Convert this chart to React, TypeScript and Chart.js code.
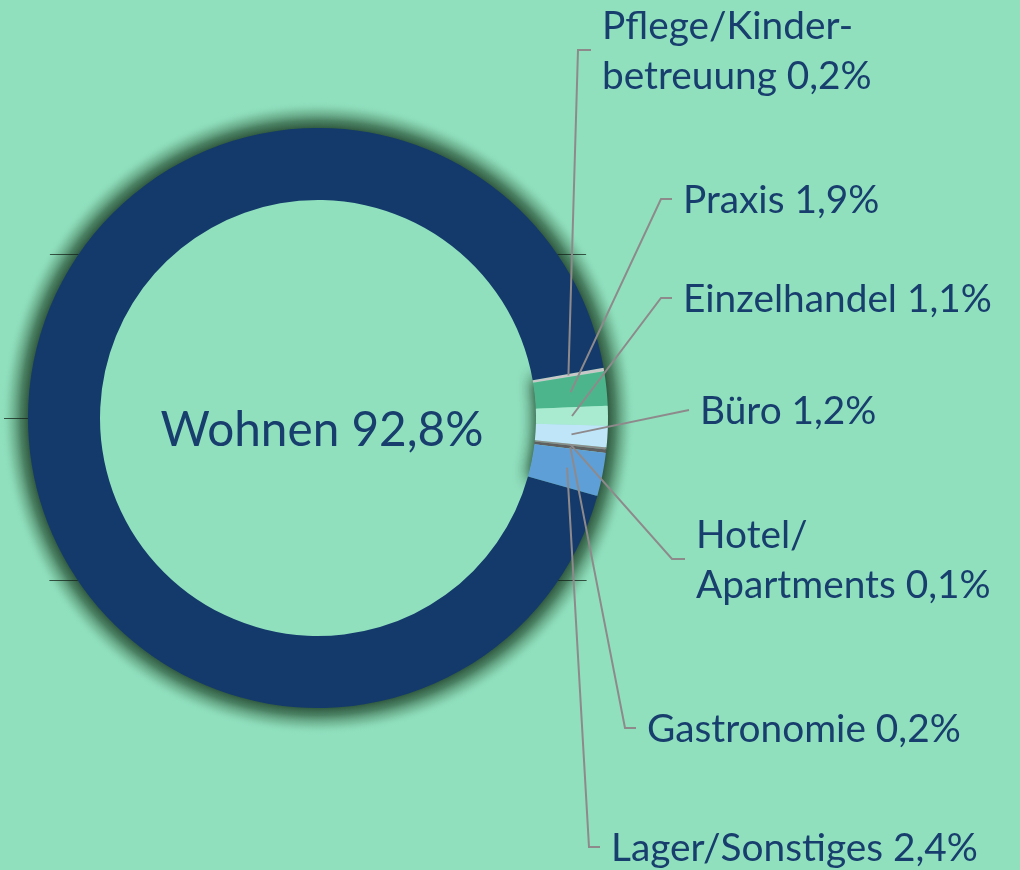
import React, { useEffect, useRef } from 'react';
import { Chart, ArcElement, DoughnutController } from 'chart.js';

Chart.register(ArcElement, DoughnutController);

// ---- data ----
const categories = [
  'Pflege/Kinder-\nbetreuung',
  'Praxis',
  'Einzelhandel',
  'Büro',
  'Hotel/\nApartments',
  'Gastronomie',
  'Lager/Sonstiges',
  'Wohnen',
];
const shares = [0.2, 1.9, 1.1, 1.2, 0.1, 0.2, 2.4, 92.8];

// ---- styles ----
const sliceColors = ['#C8C8C8', '#4DB58B', '#A9EBD0', '#BEE6F8', '#8C8C8C', '#606060', '#5F9FD7', '#143A6B'];
const BG = '#90E0BE';
const TEXT = '#183E6E';
const LEADER = '#8E8A8C';

// label layout: elbow offset from ring centre (px) and horizontal tail length
const labelElbowDX = [260, 343, 343, 371, 354, 307, 271];
const labelElbowDY = [-368, -219, -120, -8, 141, 310, 429];
const labelTail = [13, 11, 11, 0, 13, 11, 11];

const fmt = (v: number) => v.toFixed(1).replace('.', ',') + '%';

const decorPlugin = {
  id: 'decor',
  beforeDatasetsDraw(chart: any) {
    const meta = chart.getDatasetMeta(0);
    if (!meta.data.length) return;
    const a0 = meta.data[0].getProps(['x', 'y', 'outerRadius', 'innerRadius', 'startAngle'], true);
    const aL = meta.data[6].getProps(['endAngle'], true);
    const { x: cx, y: cy, outerRadius: R, innerRadius: r } = a0;
    const ctx = chart.ctx;
    const HW = 27;
    // outer halo
    ctx.save();
    const g = ctx.createRadialGradient(cx, cy, R - 1, cx, cy, R + HW);
    g.addColorStop(0, 'rgba(40,78,54,0.95)');
    g.addColorStop(0.3, 'rgba(52,98,70,0.75)');
    g.addColorStop(0.65, 'rgba(82,140,106,0.35)');
    g.addColorStop(1, 'rgba(144,224,190,0)');
    ctx.fillStyle = g;
    ctx.beginPath();
    ctx.arc(cx, cy, R + HW, 0, Math.PI * 2);
    ctx.arc(cx, cy, R - 1, 0, Math.PI * 2, true);
    ctx.fill('evenodd');
    ctx.restore();
    // inner halo near small slices (soft shadow, shape itself drawn off-canvas)
    const off = 3000;
    for (let k = 0; k < 2; k++) {
      ctx.save();
      ctx.beginPath();
      ctx.arc(cx, cy, r + 0.5, 0, Math.PI * 2);
      ctx.clip();
      ctx.shadowColor = 'rgba(34,72,48,0.85)';
      ctx.shadowBlur = 16;
      ctx.shadowOffsetX = off;
      ctx.fillStyle = '#000';
      ctx.beginPath();
      ctx.arc(cx - off, cy, R, a0.startAngle, aL.endAngle);
      ctx.arc(cx - off, cy, r + 1, aL.endAngle, a0.startAngle, true);
      ctx.closePath();
      ctx.fill();
      ctx.restore();
    }
    // faint hidden-axis ticks visible inside halo
    ctx.save();
    ctx.beginPath();
    ctx.arc(cx, cy, R + 24, 0, Math.PI * 2);
    ctx.arc(cx, cy, R, 0, Math.PI * 2, true);
    ctx.clip('evenodd');
    ctx.strokeStyle = 'rgba(20,35,25,0.75)';
    ctx.lineWidth = 1;
    const rows: [number, number, number][] = [
      [-164, 0, chart.width],
      [0, 0, cx],
      [162, 0, chart.width],
    ];
    rows.forEach(([dy, x1, x2]) => {
      ctx.beginPath();
      ctx.moveTo(x1, Math.round(cy + dy) + 0.5);
      ctx.lineTo(x2, Math.round(cy + dy) + 0.5);
      ctx.stroke();
    });
    ctx.restore();
  },
  afterDatasetsDraw(chart: any) {
    const meta = chart.getDatasetMeta(0);
    if (!meta.data.length) return;
    const ctx = chart.ctx;
    const first = meta.data[0].getProps(['x', 'y', 'outerRadius', 'innerRadius'], true);
    const { x: cx, y: cy, outerRadius: R, innerRadius: r } = first;
    const midR = (R + r) / 2;

    ctx.save();
    ctx.font = '100px Lato';
    const wRef = ctx.measureText('Einzelhandel 1,1%').width;
    const labelSize = (100 * 309) / wRef;
    const wCen = ctx.measureText('Wohnen 92,8%').width;
    const centerSize = (100 * 323) / wCen;

    for (let i = 0; i < 7; i++) {
      const arc = meta.data[i].getProps(['startAngle', 'endAngle'], true);
      const mid = (arc.startAngle + arc.endAngle) / 2;
      const sx = cx + Math.cos(mid) * midR;
      const sy = cy + Math.sin(mid) * midR;
      const ex = cx + labelElbowDX[i];
      const ey = cy + labelElbowDY[i];
      const tx = ex + labelTail[i];
      ctx.strokeStyle = LEADER;
      ctx.lineWidth = 2;
      ctx.beginPath();
      ctx.moveTo(sx, sy);
      ctx.lineTo(ex, ey);
      if (labelTail[i] > 0) ctx.lineTo(tx, ey);
      ctx.stroke();

      const lines = categories[i].split('\n');
      lines[lines.length - 1] += ' ' + fmt(shares[i]);
      ctx.fillStyle = TEXT;
      ctx.font = `${labelSize}px Lato`;
      ctx.textAlign = 'left';
      ctx.textBaseline = 'alphabetic';
      const lh = 50;
      const base = ey + 14 - (lh / 2) * (lines.length - 1);
      lines.forEach((ln, k) => ctx.fillText(ln, tx + 11, base + k * lh));
    }

    ctx.fillStyle = TEXT;
    ctx.font = `${centerSize}px Lato`;
    ctx.textAlign = 'center';
    ctx.textBaseline = 'alphabetic';
    ctx.fillText(categories[7] + ' ' + fmt(shares[7]), cx + 4, cy + 28);
    ctx.restore();
  },
};

export default function App() {
  const ref = useRef<HTMLCanvasElement | null>(null);
  useEffect(() => {
    if (!ref.current) return;
    const chart = new Chart(ref.current, {
      type: 'doughnut',
      data: {
        labels: categories.map((c) => c.replace('\n', '')),
        datasets: [
          {
            data: shares,
            backgroundColor: sliceColors,
            borderWidth: 0,
            hoverOffset: 0,
          },
        ],
      },
      options: {
        animation: false,
        responsive: true,
        maintainAspectRatio: false,
        rotation: 80,
        cutout: 218,
        layout: { padding: { left: 28, top: 128, right: 412, bottom: 162 } },
        plugins: { legend: { display: false }, tooltip: { enabled: false } },
        events: [],
      },
      plugins: [decorPlugin],
    });
    return () => chart.destroy();
  }, []);
  return (
    <div style={{ position: 'absolute', left: 0, top: 0, width: 1020, height: 870, background: BG }}>
      <canvas ref={ref} />
    </div>
  );
}
